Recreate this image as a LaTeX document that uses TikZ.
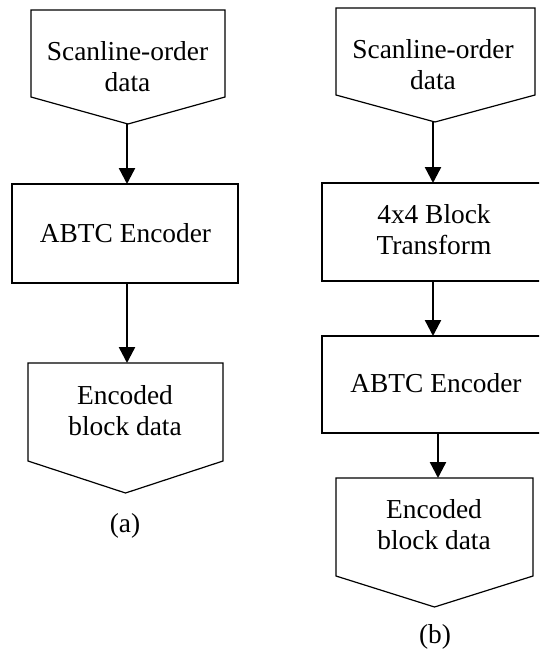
\documentclass[tikz,border=0pt]{standalone}
\usepackage{fontspec}
\setmainfont{Liberation Serif}
\usetikzlibrary{arrows.meta}
\begin{document}
\begin{tikzpicture}[x=1pt,y=-1pt,
  shapeline/.style={draw=black,line width=1.2pt,line join=miter},
  flowarrow/.style={draw=black,line width=2.4pt,-{Triangle[length=16pt,width=16pt]}},
  label/.style={font=\fontsize{27.4}{31}\selectfont,align=center,inner sep=0pt}]
\useasboundingbox (0,0) rectangle (539,654);
\clip (0,0) rectangle (539,654);

% ---- (a) direct encoding ----
% input: off-page pentagon
\draw[shapeline] (31,10) -- (225,10) -- (225,97) -- (128,124) coordinate (a1tip) -- (31,97) -- cycle;
\node[label] (a1) at (127.5,66.4) {Scanline-order\\data};
% encoder box
\draw[shapeline] (12,184) rectangle (238,283);
\coordinate (a2top) at (127,184);
\coordinate (a2bot) at (127,283);
\node[label,anchor=base] (a2) at (125.5,242) {ABTC Encoder};
% output pentagon
\draw[shapeline] (28,363) -- (223,363) -- (223,461) -- (125.5,493) -- (28,461) -- cycle;
\coordinate (a3top) at (127,363);
\node[label] (a3) at (125,411) {Encoded\\block data};
\node[label,anchor=base] (capa) at (125,532) {(a)};

\draw[flowarrow] (a1tip -| a2top) -- (a2top);
\draw[flowarrow] (a2bot) -- (a3top);

% ---- (b) with block transform ----
\draw[shapeline] (336,8) -- (535,8) -- (535,95) -- (435,122) coordinate (b1tip) -- (336,95) -- cycle;
\node[label] (b1) at (433,65) {Scanline-order\\data};
% block transform
\draw[shapeline] (322,183) rectangle (548,281);
\coordinate (b2top) at (433,183);
\coordinate (b2bot) at (433,281);
\node[label] (b2) at (434,230) {4x4 Block\\Transform};
% encoder
\draw[shapeline] (322,336) rectangle (548,433);
\coordinate (b3top) at (433,336);
\coordinate (b3bot) at (438,433);
\node[label,anchor=base] (b3) at (436,392) {ABTC Encoder};
% output pentagon
\draw[shapeline] (336,478) -- (533,478) -- (533,576) -- (434.5,607) -- (336,576) -- cycle;
\coordinate (b4top) at (438,478);
\node[label] (b4) at (434,525) {Encoded\\block data};
\node[label,anchor=base] (capb) at (435,643) {(b)};

\draw[flowarrow] (b1tip -| b2top) -- (b2top);
\draw[flowarrow] (b2bot) -- (b3top);
\draw[flowarrow] (b3bot) -- (b4top);
\end{tikzpicture}
\end{document}
